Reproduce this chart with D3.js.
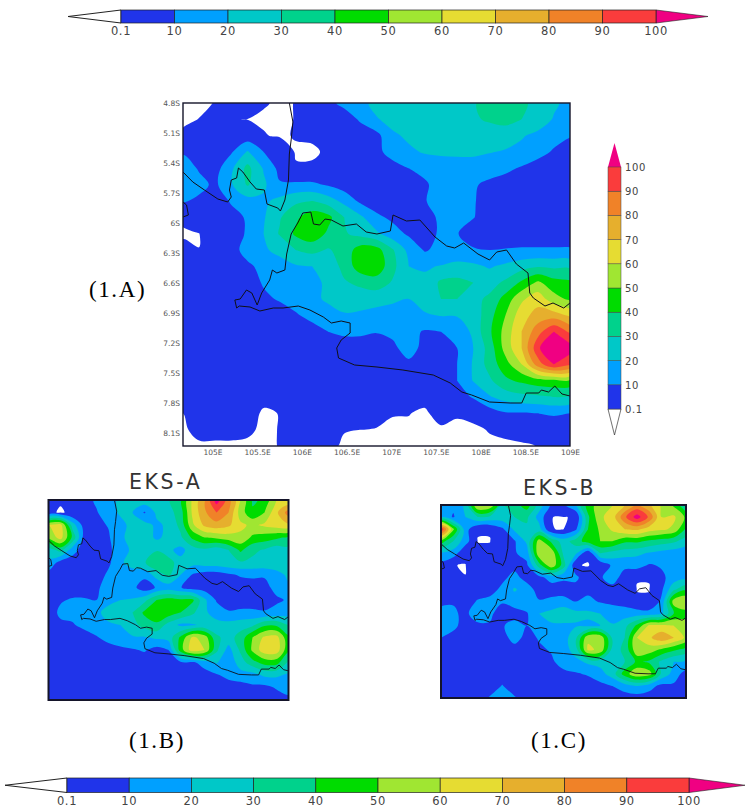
<!DOCTYPE html>
<html lang="en">
<head>
<meta charset="UTF-8">
<title>Rainfall maps</title>
<script src="https://d3js.org/d3.v7.min.js"></script>
<style>
  html, body { margin: 0; padding: 0; background: #fff; }
  svg { display: block; }
  .axis text { font-family: "DejaVu Sans", sans-serif; font-size: 7.5px; fill: #555; }
  .axis path, .axis line { display: none; }
  .bar-label { font-family: "DejaVu Sans", sans-serif; font-size: 11.5px; fill: #444; letter-spacing: .6px; }
  .panel-tag { font-family: "Liberation Serif", serif; font-size: 23px; fill: #000; letter-spacing: 1.6px; }
  .panel-title { font-family: "DejaVu Sans", sans-serif; font-size: 20.5px; fill: #333; letter-spacing: 2.6px; }
</style>
</head>
<body>
<svg id="chart" width="749" height="812"></svg>
<script>
// colour classes
const levels = [0.1, 10, 20, 30, 40, 50, 60, 70, 80, 90, 100];
const levelLabels = ["0.1", "10", "20", "30", "40", "50", "60", "70", "80", "90", "100"];
const colors = ["#2034ea", "#00a0ff", "#00c8c8", "#00d28c", "#00dc00", "#a0e632", "#e6dc32", "#e6af2d", "#f08228", "#fa3c3c", "#f00082"];

// rainfall, rows north to south
const mainGrid = [
  [0,0,.12,5,5,.16,0,.12,5,8,12,16,24,26,27,28,28,28,29,34,38,32,27,22,16],
  [0,.11,4,.2,0,0,0,.12,4,5,6,11,19,24,26,27,28,28,29,31,33,30,27,19,15],
  [.2,5,5,5,4,.15,0,.15,.2,5,6,6,7,18,22,26,28,28,28,26,25,21,17,13,10.5],
  [9,5,5,9,21,10,1,0,0,.2,5,5,8,13,18,21,22,22,22,20.5,19,17,13,9,6],
  [15,9,6,18,33,19,7,.2,.2,5,5,5,5,7,10,12,14,15,15,14,12,9,6,5,5],
  [16,13,8,19,31,22,11,12,12,9,5,5,5,5,6,9,13,12,11,8,6,5,5,5,5],
  [11,8,5,11,16,18,23,28,30,25,17,8,5,5,6,9.5,14,14,11,5,5,5,5,5,5],
  [.25,5,5,7,11,19,29,38,46,43,30,22,12,8,6,6,12,14,10.5,5,5,5,5,5,5],
  [0,0,5,6,11,20,31,42,47,38,31,27,22,14,8.5,5,12,10.5,5,5,5,5,5,5,5],
  [.3,.12,5,6,14,19,22,30,33,29,34,45,44,31,17,9,13,13,11,10,10.5,11,11,11,11],
  [5,5,5,5,8,13,17,19,20,24,33,46,47,33,20,19,20.5,23,22,19,22,26,29,28,28],
  [5,5,5,5,5,11,13,15,17,22,29,32,35,29,20,22,32,33,30,26,32,42,52,44,42],
  [5,5,5,5,5,8,11,14,17,22,25,25,24,22,20,24,30,30,27,32,44,58,66,54,48],
  [5,5,5,5,5,5,5,9,13,15,19,18,16,15,17,19,20.5,21,24,36,50,66,74,75,68],
  [5,5,5,5,5,5,5,5,6,10,12,12,10.5,12,13,9,10,10,23,38,54,70,86,100,88],
  [5,5,5,5,5,5,5,5,5,5,5,5,5,8,14,7,5,10,20,34,54,70,97,118,105],
  [5,5,5,5,5,5,5,5,5,5,5,5,5,5,8,5,5,10,21,34,46,60,85,100,92],
  [5,5,5,5,5,5,5,5,5,5,5,5,5,5,5,5,5,10,20.5,28,38,42,46,47,48],
  [5,5,5,5,5,.3,5,5,5,5,5,5,5,5,5,.3,5,5,11,19,24,27,28,30,28],
  [.1,5,5,5,.4,0,.12,5,5,5,5,5,.8,.13,.12,0,.37,.15,.27,5,9,9,10,11,10],
  [0,.3,.3,.3,.2,0,.12,5,5,5,.13,.1,0,0,0,0,0,0,0,.13,.23,.45,5,5,5],
  [0,0,0,0,0,0,.12,5,5,.27,0,0,0,0,0,0,0,0,0,0,0,0,.12,4,5]
];
const eksAGrid = [
  [5,.2,5,5,12,16,22,27,27,27,29,38,62,78,105,85,60,38,42,60,60],
  [.3,0,.3,5,9,17,21,20,9,22,26,35,62,78,90,80,55,42,50,68,85],
  [60,64,25,5,8,10.5,18,22,24,18,22,33,58,72,76,72,62,58,62,65,68],
  [52,64,38,5,5,9,17,26,26,18,23,28,42,50,52,55,58,48,45,42,38],
  [24,34,14,5,5,8,15,22,25,29,22,17,25,28,24,30,42,32,29,24,27],
  [18,6,5,5,5,8,18,25,29,40,36,23,24,26,26,28,29,28,28,27,27],
  [5,5,5,5,5,12,18,14,13,24,32,20,9,5,5,8,11,12,11,16,22],
  [5,5,5,5,8,15,18,13,4,11,15,10.5,5,5,5,5,5,5,7,13,18],
  [5,9,11,11,10,16,20,21,27,40,44,42,42,22,9,5,5,5,5,8.5,11],
  [5,12,13,15,17,25,29,30,42,47,46,40,32,22,15,11,12,12,11,13,14],
  [5,8,9,13,16,18,20,26,34,38,26,18,19,22,24,24,26,28,38,38,30],
  [5,5,5,5,9,14,18,19,19,22,24,42,62,56,32,26,34,50,62,64,42],
  [5,5,5,5,5,5,7,9,11,6,10,45,66,60,32,16,32,52,66,66,42],
  [5,5,5,5,5,5,5,5,5,5,5,8,8,15,21,13,25,36,44,44,28],
  [5,5,5,5,5,5,5,5,5,5,5,5,5,5,9,13,16,16,22,22,18],
  [5,5,5,5,5,5,5,5,5,5,5,5,5,5,5,5,5,8,7,11,13],
  [5,5,5,5,5,5,5,5,5,5,5,5,5,5,5,5,5,5,5,5,8]
];
const eksBGrid = [
  [10,12,22,62,58,30,35,45,25,8,8,20,45,55,60,70,82,72,58,48,30],
  [18,9,20,30,28,26,30,32,16,.12,0,.3,38,58,65,88,105,88,60,62,48],
  [100,52,14,.3,.3,8,22,28,24,.15,0,8,40,52,62,70,72,65,62,58,38],
  [45,30,14,0,0,5,9,22,55,38,25,35,45,50,50,42,42,38,35,32,25],
  [17,15,1,1,1,5,9,14,58,58,28,22,.4,30,26,24,22,19,16,14,13],
  [6,.15,0,5,5,5,6,8,35,58,35,.2,0,1,12,12,14,9,11,15,14],
  [5,5,.13,5,5,7,14,5,7,14,12,13,1,9,14,6,.2,.2,8,14,16],
  [5,5,5,5,5,13,21,16,5,5,5,5,7,7,7,5,0,0,8,28,38],
  [7,9,5,11,14,11,16,17,11,13,14,10,13,9,8,6,.5,.5,12,55,60],
  [14,12,7,18,12,5,5,9,20,23,27,23,22,20,15,15,15,14,18,40,45],
  [14,13,5,7,9,9,14,10,16,19,18,19,18,20,21,27,42,62,62,60,55],
  [10,6,5,5,5,5,15,6,11,13,15,28,58,58,28,30,60,68,78,70,58],
  [5,5,5,5,5,5,5,5,8,11,15,25,62,58,26,32,58,55,48,42,36],
  [5,5,5,5,5,5,5,5,5,8,15,17,22,24,26,30,42,38,28,20,18],
  [5,5,5,5,5,5,5,5,5,5,7,9,11,16,25,45,58,55,28,16,5],
  [5,5,5,5,5,10.5,5,5,5,5,5,5,5,7,10,15,20,14,7,8,10],
  [5,5,5,5,11,15,11,5,5,5,5,5,5,5,5,5,5,5,5,5,5]
];

// coastlines as [lon, lat south]
const coastSumatra = [[104.67,5.49],[104.78,5.59],[104.91,5.67],[105.06,5.76],[105.17,5.79],[105.21,5.74],[105.19,5.67],[105.21,5.57],[105.27,5.55],[105.29,5.45],[105.34,5.49],[105.42,5.59],[105.49,5.66],[105.58,5.67],[105.61,5.81],[105.73,5.85],[105.76,5.88],[105.81,5.77],[105.85,5.57],[105.86,5.31],[105.88,5.17],[105.90,4.99],[105.86,4.80]];
const coastIslet = [[104.67,5.79],[104.71,5.82],[104.73,5.92],[104.67,5.94]];
const coastJavaNorth = [[105.25,6.77],[105.31,6.76],[105.38,6.67],[105.44,6.70],[105.50,6.82],[105.55,6.70],[105.64,6.57],[105.67,6.47],[105.72,6.50],[105.81,6.47],[105.83,6.31],[105.88,6.11],[105.96,5.99],[106.01,5.90],[106.10,5.89],[106.13,6.01],[106.20,6.02],[106.26,5.96],[106.33,5.97],[106.46,6.03],[106.61,6.01],[106.72,6.09],[106.84,6.11],[106.99,6.08],[107.02,5.92],[107.17,5.98],[107.32,5.97],[107.41,6.06],[107.49,6.14],[107.62,6.23],[107.71,6.25],[107.81,6.20],[107.97,6.31],[108.10,6.37],[108.18,6.29],[108.29,6.27],[108.40,6.41],[108.53,6.50],[108.55,6.70],[108.59,6.75],[108.72,6.83],[108.81,6.80],[108.93,6.85],[109,6.80]];
const coastJavaSouth = [[105.25,6.77],[105.27,6.85],[105.30,6.83],[105.42,6.84],[105.53,6.88],[105.68,6.85],[105.79,6.85],[105.96,6.83],[106.09,6.87],[106.24,6.94],[106.33,7.00],[106.44,6.98],[106.54,7.00],[106.54,7.10],[106.44,7.17],[106.39,7.25],[106.41,7.35],[106.59,7.42],[106.84,7.44],[107.13,7.47],[107.47,7.52],[107.66,7.60],[107.79,7.69],[107.90,7.72],[108.10,7.79],[108.33,7.80],[108.46,7.80],[108.51,7.70],[108.65,7.70],[108.68,7.67],[108.76,7.69],[108.83,7.63],[108.91,7.71],[109,7.73]];
const coasts = [coastSumatra, coastIslet, coastJavaNorth, coastJavaSouth];

const lonTicks = [105, 105.5, 106, 106.5, 107, 107.5, 108, 108.5, 109];
const latTicks = [4.8, 5.1, 5.4, 5.7, 6, 6.3, 6.6, 6.9, 7.2, 7.5, 7.8, 8.1];
const lonExtent = [104.67, 109];
const latExtent = [4.8, 8.23];

const svg = d3.select("#chart");
let clipCount = 0;

function drawMap(grid, box) {
  const nx = grid[0].length, ny = grid.length;
  const colX = d3.scaleLinear().domain([0.5, nx - 0.5]).range([box.x0, box.x1]);
  const rowY = d3.scaleLinear().domain([0.5, ny - 0.5]).range([box.y0, box.y1]);
  const lonX = d3.scaleLinear().domain(lonExtent).range([box.x0, box.x1]);
  const latY = d3.scaleLinear().domain(latExtent).range([box.y0, box.y1]);

  const clipId = "clip" + (clipCount++);
  svg.append("clipPath").attr("id", clipId).append("rect")
    .attr("x", box.x0).attr("y", box.y0)
    .attr("width", box.x1 - box.x0).attr("height", box.y1 - box.y0);

  const g = svg.append("g").attr("clip-path", `url(#${clipId})`);
  const ring = d3.line().x(d => colX(d[0])).y(d => rowY(d[1])).curve(d3.curveCatmullRomClosed.alpha(0.5));
  const contours = d3.contours().size([nx, ny]).thresholds(levels)(grid.flat());

  g.selectAll("path.band")
    .data(contours)
    .join("path")
    .attr("class", "band")
    .attr("fill", (d, i) => colors[i])
    .attr("fill-rule", "evenodd")
    .attr("d", d => d.coordinates.map(poly => poly.map(r => ring(r.slice(0, -1))).join("")).join(""));

  const coast = d3.line().x(d => lonX(d[0])).y(d => latY(d[1]));
  g.selectAll("path.coast")
    .data(coasts)
    .join("path")
    .attr("class", "coast")
    .attr("fill", "none")
    .attr("stroke", "#101018")
    .attr("stroke-width", box.coastWidth)
    .attr("d", coast);

  svg.append("rect")
    .attr("x", box.x0).attr("y", box.y0)
    .attr("width", box.x1 - box.x0).attr("height", box.y1 - box.y0)
    .attr("fill", "none").attr("stroke", "#14142a").attr("stroke-width", box.frameWidth);

  return { lonX, latY };
}

// main map with its axes
const mainBox = { x0: 183, x1: 570, y0: 103, y1: 446, coastWidth: 1, frameWidth: 1.4 };
const mainScales = drawMap(mainGrid, mainBox);
svg.append("g").attr("class", "axis")
  .attr("transform", `translate(0,${mainBox.y1 + 2})`)
  .call(d3.axisBottom(mainScales.lonX).tickValues(lonTicks).tickFormat(d => d + "E").tickSize(0).tickPadding(2));
svg.append("g").attr("class", "axis")
  .attr("transform", `translate(${mainBox.x0 - 2},0)`)
  .call(d3.axisLeft(mainScales.latY).tickValues(latTicks).tickFormat(d => d + "S").tickSize(0).tickPadding(1));

drawMap(eksAGrid, { x0: 48.5, x1: 288.5, y0: 500, y1: 700, coastWidth: .9, frameWidth: 2 });
drawMap(eksBGrid, { x0: 441, x1: 686, y0: 505, y1: 698, coastWidth: .9, frameWidth: 2 });

// horizontal colour bar with arrow ends
function colorBarH(x0, x1, y0, y1, tipL, tipR, labelY) {
  const x = d3.scalePoint().domain(levelLabels).range([x0, x1]);
  const mid = (y0 + y1) / 2;
  const g = svg.append("g");
  g.append("path").attr("d", `M${x0},${y0}L${tipL},${mid}L${x0},${y1}Z`).attr("fill", "#fff").attr("stroke", "#222");
  g.append("path").attr("d", `M${x1},${y0}L${tipR},${mid}L${x1},${y1}Z`).attr("fill", colors[10]).attr("stroke", "#222").attr("stroke-width", .6);
  g.selectAll("rect").data(levelLabels.slice(0, -1)).join("rect")
    .attr("x", d => x(d))
    .attr("y", y0)
    .attr("width", x.step())
    .attr("height", y1 - y0)
    .attr("fill", (d, i) => colors[i])
    .attr("stroke", "#222")
    .attr("stroke-width", .7);
  g.selectAll("text").data(levelLabels).join("text")
    .attr("class", "bar-label")
    .attr("x", d => x(d))
    .attr("y", labelY)
    .attr("text-anchor", "middle")
    .text(d => d);
}
colorBarH(121, 656, 10, 23, 68, 708, 35);
colorBarH(67, 689, 778, 792.5, 5, 745, 805);

// vertical colour bar beside the main map
const barY = d3.scalePoint().domain(levelLabels).range([409, 167]);
const vbar = svg.append("g");
vbar.append("path").attr("d", "M608,409L614.5,435L621,409Z").attr("fill", "#fff").attr("stroke", "#333").attr("stroke-width", .7);
vbar.append("path").attr("d", "M608,167L614.5,143L621,167Z").attr("fill", colors[10]);
vbar.selectAll("rect").data(levelLabels.slice(0, -1)).join("rect")
  .attr("x", 608)
  .attr("y", d => barY(d) - barY.step())
  .attr("width", 13)
  .attr("height", barY.step())
  .attr("fill", (d, i) => colors[i])
  .attr("stroke", "#444")
  .attr("stroke-width", .5);
vbar.selectAll("text").data(levelLabels).join("text")
  .attr("class", "bar-label")
  .attr("x", 625)
  .attr("y", d => barY(d) + 4)
  .style("font-size", "10px")
  .text(d => d);

// panel captions
const tags = [["(1.A)", 89, 297], ["(1.B)", 129, 748], ["(1.C)", 531, 748]];
svg.selectAll("text.panel-tag").data(tags).join("text")
  .attr("class", "panel-tag")
  .attr("x", d => d[1])
  .attr("y", d => d[2])
  .text(d => d[0]);
const titles = [["EKS-A", 129, 489], ["EKS-B", 523, 495]];
svg.selectAll("text.panel-title").data(titles).join("text")
  .attr("class", "panel-title")
  .attr("x", d => d[1])
  .attr("y", d => d[2])
  .text(d => d[0]);
</script>
</body>
</html>
